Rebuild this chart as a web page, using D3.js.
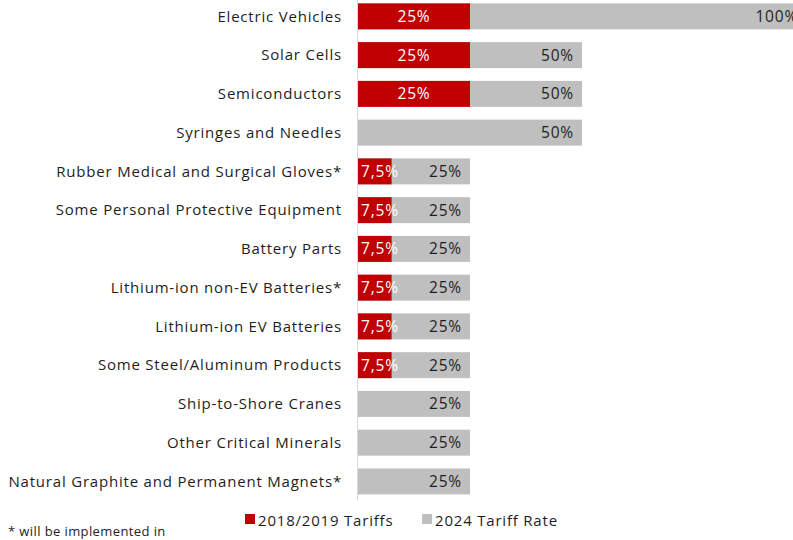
<!DOCTYPE html>
<html>
<head>
<meta charset="utf-8">
<script src="https://cdn.jsdelivr.net/npm/d3@7/dist/d3.min.js"></script>
<style>
  html, body { margin: 0; padding: 0; background: #fff; }
  svg { display: block; font-family: "Open Sans", "Noto Sans", sans-serif; letter-spacing: 0.8px; }
</style>
</head>
<body>
<svg id="chart" width="793" height="540"></svg>
<script>
// Product groups, top to bottom
const categories = [
  "Electric Vehicles",
  "Solar Cells",
  "Semiconductors",
  "Syringes and Needles",
  "Rubber Medical and Surgical Gloves*",
  "Some Personal Protective Equipment",
  "Battery Parts",
  "Lithium-ion non-EV Batteries*",
  "Lithium-ion EV Batteries",
  "Some Steel/Aluminum Products",
  "Ship-to-Shore Cranes",
  "Other Critical Minerals",
  "Natural Graphite and Permanent Magnets*"
];
// Tariff rates in percent (null = no earlier tariff)
const tariffs2018 = [25, 25, 25, null, 7.5, 7.5, 7.5, 7.5, 7.5, 7.5, null, null, null];
const tariffs2024 = [100, 50, 50, 50, 25, 25, 25, 25, 25, 25, 25, 25, 25];
const seriesNames = ["2018/2019 Tariffs", "2024 Tariff Rate"];
const footnote = "* will be implemented in";

const RED = "#c00000", GREY = "#bfbfbf", TEXT = "#1e1e1e";
const svg = d3.select("#chart");

const x = d3.scaleLinear().domain([0, 100]).range([358, 806]);
const y = d3.scaleBand().domain(categories).range([-3, 500.8]).paddingInner(0.33).paddingOuter(0.165);

const fmt = v => String(v).replace(".", ",") + "%";
const rows = categories.map((c, i) => ({ c, a: tariffs2018[i], b: tariffs2024[i] }));

// 2024 rate bars (grey, drawn behind)
svg.append("g").selectAll("rect").data(rows).join("rect")
  .attr("x", x(0)).attr("y", d => y(d.c))
  .attr("width", d => x(d.b) - x(0)).attr("height", y.bandwidth())
  .attr("fill", GREY);

// earlier tariffs (red, on top)
svg.append("g").selectAll("rect").data(rows.filter(d => d.a != null)).join("rect")
  .attr("x", x(0)).attr("y", d => y(d.c))
  .attr("width", d => x(d.a) - x(0)).attr("height", y.bandwidth())
  .attr("fill", RED);

// category axis line
svg.append("line").attr("x1", 357.5).attr("x2", 357.5).attr("y1", 0).attr("y2", 500)
  .attr("stroke", "#d9d9d9").attr("stroke-width", 1);

// category labels
svg.append("g").selectAll("text").data(rows).join("text")
  .attr("x", 342).attr("y", d => y(d.c) + y.bandwidth() / 2)
  .attr("dy", "0.35em").attr("text-anchor", "end")
  .attr("font-size", 15).attr("fill", TEXT)
  .text(d => d.c);

// 2024 value labels, inside the bar end
svg.append("g").selectAll("text").data(rows).join("text")
  .attr("x", d => x(d.b) - 8).attr("y", d => y(d.c) + y.bandwidth() / 2)
  .attr("dy", "0.35em").attr("text-anchor", "end")
  .attr("font-size", 15.5).attr("fill", TEXT)
  .text(d => fmt(d.b));

// earlier tariff labels, centred in red bar (kept off the axis when too narrow)
svg.append("g").selectAll("text").data(rows.filter(d => d.a != null)).join("text")
  .attr("y", d => y(d.c) + y.bandwidth() / 2)
  .attr("dy", "0.35em").attr("text-anchor", "middle")
  .attr("font-size", 15.5).attr("fill", "#fff")
  .text(d => fmt(d.a))
  .attr("x", function(d) {
    const w = this.getComputedTextLength();
    const c = (x(0) + x(d.a)) / 2;
    return Math.max(c, x(0) + 3 + w / 2);
  });

// legend
const legend = svg.append("g");
const legendItems = [
  { name: seriesNames[0], color: RED, x: 245 },
  { name: seriesNames[1], color: GREY, x: 422 }
];
legendItems.forEach(it => {
  legend.append("rect").attr("x", it.x).attr("y", 514).attr("width", 10).attr("height", 10).attr("fill", it.color);
  legend.append("text").attr("x", it.x + 13).attr("y", 526)
    .attr("font-size", 15).attr("fill", TEXT).text(it.name);
});

// footnote
svg.append("text").attr("x", 8).attr("y", 536)
  .attr("font-size", 13).attr("letter-spacing", 0.4).attr("fill", TEXT).text(footnote);
</script>
</body>
</html>
